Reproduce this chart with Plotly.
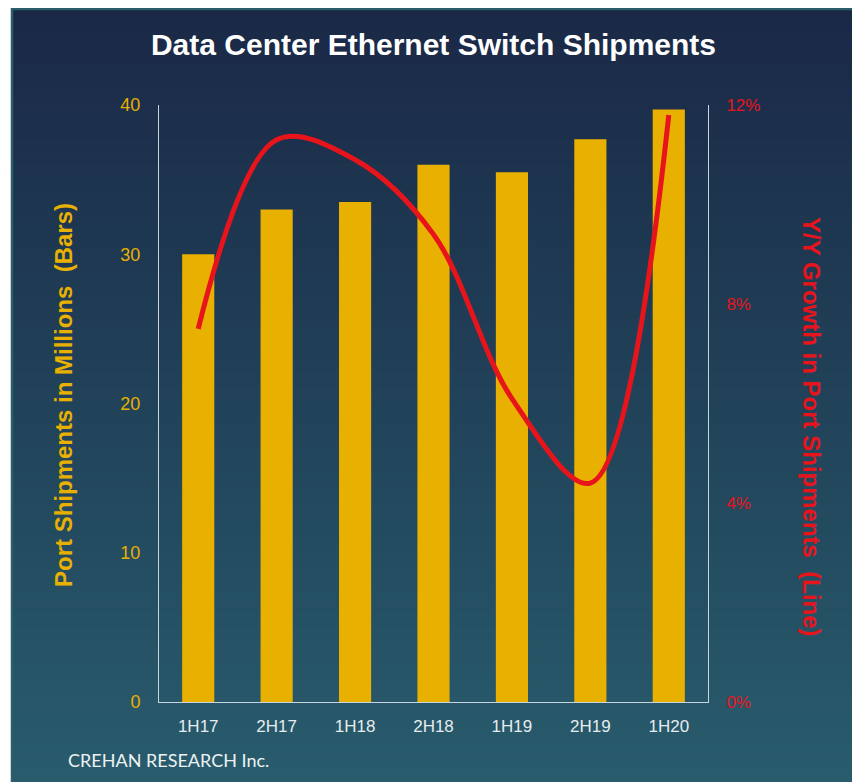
import plotly.graph_objects as go

periods = ["1H17", "2H17", "1H18", "2H18", "1H19", "2H19", "1H20"]
shipments_m = [30.0, 33.0, 33.5, 36.0, 35.5, 37.7, 39.7]
yoy_growth_pct = [7.5, 11.3, 10.9, 9.4, 6.1, 4.4, 11.8]
left_ticks = [0, 10, 20, 30, 40]
right_ticks = [0, 4, 8, 12]
right_tick_text = ["0%", "4%", "8%", "12%"]

OFF = 8  # default body margin of the html page
W, H = 860 - OFF, 782 - OFF
L, R, T, B = 159 - OFF, 708 - OFF, 105 - OFF, 702 - OFF
pw, ph = R - L, B - T

def px2x(px):
    return (px - OFF - L) / pw

def py2y(py):
    return (B - (py - OFF)) / ph

GOLD = "#e8b000"
RED = "#e8141c"

fig = go.Figure()
fig.add_trace(go.Bar(x=periods, y=shipments_m, marker=dict(color=GOLD, line=dict(width=0)),
                     width=0.41, yaxis="y", hoverinfo="skip", showlegend=False))
fig.add_trace(go.Scatter(x=periods, y=yoy_growth_pct, mode="lines", yaxis="y2",
                         line=dict(color=RED, width=5, shape="spline", smoothing=1.0),
                         showlegend=False, hoverinfo="skip"))

# gradient background panel
shapes = []
top_c = (26, 40, 70)
bot_c = (40, 92, 108)
x0p, x1p, y0p, y1p = 11, 857, 8, 782
n = 100
for i in range(n):
    f = i / (n - 1)
    c = tuple(int(round(top_c[k] + (bot_c[k] - top_c[k]) * f)) for k in range(3))
    ya = y0p + (y1p - y0p) * i / n
    yb = y0p + (y1p - y0p) * (i + 1) / n + 2.0
    shapes.append(dict(type="rect", xref="paper", yref="paper", layer="below",
                       x0=px2x(x0p), x1=px2x(x1p), y0=py2y(ya), y1=py2y(min(yb, y1p + 2)),
                       fillcolor="rgb(%d,%d,%d)" % c, line=dict(width=0)))
shapes.append(dict(type="rect", xref="paper", yref="paper", layer="below",
                   x0=px2x(x0p + 1), x1=px2x(x1p - 1), y0=py2y(y0p + 1), y1=py2y(y1p + 4),
                   fillcolor="rgba(0,0,0,0)", line=dict(width=2.5, color="#2b5d6b")))

axis_line = "#c9d5de"
fig.update_layout(
    width=W, height=H,
    margin=dict(l=L, r=W - R, t=T, b=H - B),
    paper_bgcolor="white", plot_bgcolor="rgba(0,0,0,0)",
    shapes=shapes,
    title=dict(text="<b>Data Center Ethernet Switch Shipments</b>", x=0.5, xanchor="center",
               xref="paper", y=1 - (44 - OFF) / H, yanchor="middle",
               font=dict(family="Liberation Sans Narrow, Arial Narrow, Arial, sans-serif",
                         size=30, color="white")),
    xaxis=dict(showline=True, linecolor=axis_line, linewidth=1, showgrid=False,
               ticks="outside", ticklen=9, tickcolor="rgba(0,0,0,0)",
               tickfont=dict(family="Arial, Liberation Sans, sans-serif", size=17, color="#e6ecef"),
               fixedrange=True),
    yaxis=dict(range=[0, 40], tickvals=left_ticks, showline=True, linecolor=axis_line, linewidth=1,
               showgrid=False, zeroline=False, ticks="outside", ticklen=14,
               tickcolor="rgba(0,0,0,0)",
               tickfont=dict(family="Arial, Liberation Sans, sans-serif", size=18, color=GOLD)),
    yaxis2=dict(range=[0, 12], tickvals=right_ticks, ticktext=right_tick_text,
                overlaying="y", side="right",
                showline=True, linecolor=axis_line, linewidth=1, showgrid=False, zeroline=False,
                ticks="outside", ticklen=14, tickcolor="rgba(0,0,0,0)",
                tickfont=dict(family="Arial, Liberation Sans, sans-serif", size=17, color=RED)),
    annotations=[
        dict(text="<b>Port Shipments in Millions  (Bars)</b>", xref="paper", yref="paper",
             x=px2x(63), y=py2y(395), textangle=-90, showarrow=False,
             xanchor="center", yanchor="middle",
             font=dict(family="Arial, Liberation Sans, sans-serif", size=24, color=GOLD)),
        dict(text="<b>Y/Y Growth in Port Shipments  (Line)</b>", xref="paper", yref="paper",
             x=px2x(812), y=py2y(427), textangle=90, showarrow=False,
             xanchor="center", yanchor="middle",
             font=dict(family="Arial, Liberation Sans, sans-serif", size=24, color=RED)),
        dict(text="CREHAN RESEARCH Inc.", xref="paper", yref="paper",
             x=px2x(66), y=py2y(760), showarrow=False, xanchor="left", yanchor="middle",
             font=dict(family="Lato, Carlito, Open Sans, sans-serif", size=18, color="#eef2f4")),
    ],
)

fig.write_html("out.html")
